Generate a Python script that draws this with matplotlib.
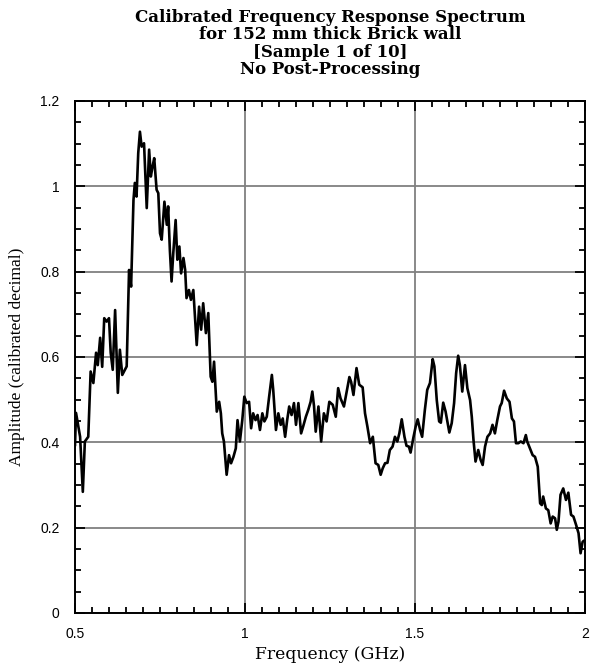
import matplotlib
matplotlib.use('Agg')
import matplotlib.pyplot as plt
from matplotlib.ticker import MultipleLocator

# frequency (GHz) and amplitude
freq = [0.500, 0.503, 0.515, 0.523, 0.529, 0.539, 0.546, 0.554, 0.562, 0.567,
        0.574, 0.580, 0.586, 0.593, 0.600, 0.605, 0.611, 0.618, 0.626, 0.632,
        0.639, 0.647, 0.652, 0.659, 0.665, 0.672, 0.676, 0.681, 0.686, 0.691,
        0.696, 0.703, 0.711, 0.718, 0.723, 0.728, 0.733, 0.740, 0.745, 0.750,
        0.755, 0.763, 0.770, 0.774, 0.779, 0.784, 0.789, 0.796, 0.801, 0.807,
        0.812, 0.819, 0.824, 0.828, 0.835, 0.841, 0.848, 0.858, 0.865, 0.871,
        0.877, 0.885, 0.892, 0.899, 0.904, 0.909, 0.917, 0.924, 0.929, 0.933,
        0.938, 0.946, 0.953, 0.959, 0.966, 0.973, 0.978, 0.985, 0.992, 0.998,
        1.005, 1.012, 1.018, 1.024, 1.031, 1.037, 1.044, 1.051, 1.057, 1.064,
        1.071, 1.079, 1.083, 1.091, 1.098, 1.105, 1.111, 1.118, 1.124, 1.130,
        1.137, 1.144, 1.150, 1.157, 1.165, 1.171, 1.179, 1.186, 1.193, 1.198,
        1.203, 1.208, 1.216, 1.224, 1.232, 1.240, 1.248, 1.258, 1.267, 1.274,
        1.281, 1.291, 1.299, 1.307, 1.312, 1.319, 1.328, 1.336, 1.346, 1.353,
        1.360, 1.368, 1.376, 1.384, 1.392, 1.399, 1.405, 1.412, 1.419, 1.426,
        1.434, 1.441, 1.448, 1.454, 1.461, 1.469, 1.475, 1.482, 1.487, 1.495,
        1.502, 1.508, 1.515, 1.521, 1.529, 1.536, 1.544, 1.552, 1.557, 1.564,
        1.571, 1.576, 1.583, 1.590, 1.597, 1.601, 1.608, 1.615, 1.621, 1.627,
        1.632, 1.639, 1.647, 1.654, 1.662, 1.667, 1.672, 1.678, 1.686, 1.693,
        1.699, 1.706, 1.713, 1.721, 1.728, 1.735, 1.742, 1.750, 1.755, 1.762,
        1.770, 1.778, 1.785, 1.791, 1.797, 1.804, 1.811, 1.819, 1.826, 1.830,
        1.838, 1.846, 1.853, 1.861, 1.868, 1.873, 1.877, 1.885, 1.892, 1.899,
        1.905, 1.912, 1.917, 1.922, 1.928, 1.936, 1.944, 1.951, 1.959, 1.966,
        1.974, 1.981, 1.987, 1.993, 2.000]
amp = [0.394, 0.469, 0.413, 0.284, 0.402, 0.413, 0.566, 0.539, 0.610, 0.581,
       0.645, 0.577, 0.691, 0.683, 0.691, 0.610, 0.570, 0.710, 0.516, 0.617,
       0.558, 0.570, 0.578, 0.804, 0.765, 0.968, 1.008, 0.976, 1.078, 1.128,
       1.093, 1.101, 0.949, 1.086, 1.023, 1.046, 1.066, 0.992, 0.984, 0.890,
       0.875, 0.964, 0.910, 0.953, 0.851, 0.777, 0.843, 0.921, 0.828, 0.859,
       0.796, 0.832, 0.804, 0.738, 0.757, 0.734, 0.757, 0.628, 0.718, 0.664,
       0.726, 0.656, 0.703, 0.554, 0.542, 0.589, 0.472, 0.495, 0.468, 0.421,
       0.402, 0.324, 0.370, 0.351, 0.366, 0.386, 0.452, 0.402, 0.452, 0.507,
       0.492, 0.495, 0.433, 0.468, 0.452, 0.464, 0.429, 0.468, 0.449, 0.460,
       0.507, 0.558, 0.523, 0.429, 0.468, 0.441, 0.456, 0.413, 0.452, 0.484,
       0.464, 0.492, 0.441, 0.492, 0.421, 0.437, 0.460, 0.476, 0.495, 0.519,
       0.485, 0.425, 0.484, 0.402, 0.468, 0.449, 0.495, 0.488, 0.460, 0.527,
       0.503, 0.484, 0.519, 0.553, 0.542, 0.511, 0.574, 0.535, 0.529, 0.468,
       0.437, 0.398, 0.413, 0.351, 0.347, 0.324, 0.339, 0.351, 0.352, 0.382,
       0.390, 0.413, 0.402, 0.421, 0.454, 0.413, 0.392, 0.390, 0.376, 0.410,
       0.437, 0.454, 0.429, 0.413, 0.476, 0.523, 0.539, 0.595, 0.578, 0.499,
       0.449, 0.446, 0.493, 0.472, 0.440, 0.423, 0.445, 0.492, 0.562, 0.603,
       0.581, 0.519, 0.581, 0.527, 0.499, 0.460, 0.406, 0.355, 0.382, 0.359,
       0.347, 0.390, 0.413, 0.421, 0.441, 0.421, 0.452, 0.484, 0.492, 0.521,
       0.503, 0.495, 0.456, 0.449, 0.398, 0.398, 0.402, 0.398, 0.417, 0.402,
       0.386, 0.370, 0.366, 0.343, 0.257, 0.253, 0.273, 0.245, 0.241, 0.210,
       0.226, 0.222, 0.195, 0.214, 0.277, 0.292, 0.265, 0.282, 0.230, 0.226,
       0.206, 0.187, 0.140, 0.167, 0.171]

x_ticks = [0.5, 1, 1.5, 2]
x_labels = ['0.5', '1', '1.5', '2']
y_ticks = [0, 0.2, 0.4, 0.6, 0.8, 1, 1.2]
y_labels = ['0', '0.2', '0.4', '0.6', '0.8', '1', '1.2']

serif = ['DejaVu Serif']
times = ['Liberation Serif', 'DejaVu Serif']
sans = ['Liberation Sans', 'DejaVu Sans']

fig = plt.figure(figsize=(5.92, 6.69), dpi=100)
ax = fig.add_axes([75/592, 56/669, 510/592, 512/669])

ax.plot(freq, amp, color='black', linewidth=1.9, zorder=3)

ax.set_xlim(0.5, 2)
ax.set_ylim(0, 1.2)
ax.set_xticks(x_ticks)
ax.set_xticklabels(x_labels, family=sans, fontsize=10)
ax.set_yticks(y_ticks)
ax.set_yticklabels(y_labels, family=sans, fontsize=10)
ax.xaxis.set_minor_locator(MultipleLocator(0.05))
ax.yaxis.set_minor_locator(MultipleLocator(0.05))
ax.tick_params(which='both', direction='in', top=True, right=True, width=1.3, color='black')
ax.tick_params(which='major', length=7)
ax.tick_params(axis='x', which='major', pad=10)
ax.tick_params(axis='y', which='major', pad=11)
ax.tick_params(which='minor', length=4)
ax.grid(True, which='major', color='#808080', linewidth=1.3, zorder=1)
for s in ax.spines.values():
    s.set_linewidth(1.4)

ax.set_xlabel('Frequency (GHz)', family=serif, fontsize=12.4, labelpad=4)
ax.set_ylabel('Amplitude (calibrated decimal)', family=times, fontsize=12.5, labelpad=11)

fig.text(330/592, 1 - 9/669,
         'Calibrated Frequency Response Spectrum\nfor 152 mm thick Brick wall\n[Sample 1 of 10]\nNo Post-Processing',
         ha='center', va='top', family=serif, fontweight='bold', fontsize=12, linespacing=1.02)

fig.savefig('out.png', dpi=100)
